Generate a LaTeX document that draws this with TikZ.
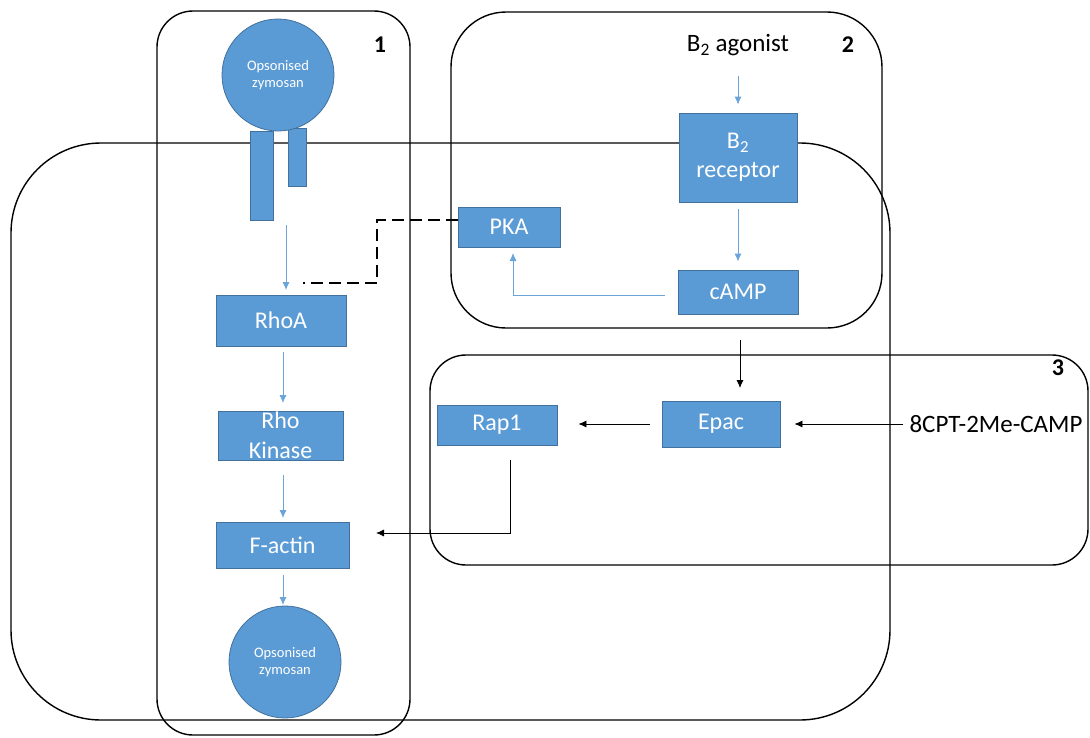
\documentclass[tikz,border=0pt]{standalone}
\usepackage{fontspec}
\setmainfont{Carlito}
\usetikzlibrary{arrows.meta,calc}
\definecolor{boxblue}{HTML}{5B9BD5}
\definecolor{boxedge}{HTML}{41719C}
\definecolor{arrblue}{HTML}{6AA4D8}
\tikzset{
  region/.style={draw=black,line width=1.4pt},
  protbox/.style={rectangle,fill=boxblue,draw=boxedge,line width=0.8pt,inner sep=0pt,text=white,font=\fontsize{24}{29}\selectfont,align=center},
  recbar/.style={rectangle,fill=boxblue,draw=boxedge,line width=0.8pt,inner sep=0pt},
  ball/.style={circle,fill=boxblue,draw=boxedge,line width=0.8pt,inner sep=0pt,minimum size=112pt,text=white,font=\fontsize{14.5}{17}\selectfont,align=center},
  barrow/.style={draw=arrblue,line width=0.9pt,-{Latex[length=8pt,width=7pt]}},
  karrow/.style={draw=black,line width=0.8pt,-{Latex[length=8pt,width=7pt]}},
  lbl/.style={font=\fontsize{25}{30}\selectfont,inner sep=0pt},
  numlbl/.style={font=\fontsize{24}{29}\selectfont\bfseries,inner sep=0pt},
}
\begin{document}
\begin{tikzpicture}[x=1pt,y=-1pt]
\useasboundingbox (0,0) rectangle (1090,737);
% cell outline
\draw[region,rounded corners=90pt] (11,143) rectangle (890,720);
% region boxes
\draw[region,rounded corners=36pt] (157,11) rectangle (410,735);
\draw[region,rounded corners=55pt] (451,12) rectangle (882,328);
\draw[region,rounded corners=36pt] (430,355) rectangle (1088,565);
% receptors
\node[recbar,minimum width=23pt,minimum height=89pt] (rec1) at (261.5,175.5) {};
\node[recbar,minimum width=18pt,minimum height=58pt] (rec2) at (297,157) {};
% nodes
\node[ball] (zym1) at (278,75) {Opsonised\\zymosan};
\node[ball] (zym2) at (285,662) {Opsonised\\zymosan};
\node[protbox,minimum width=130pt,minimum height=51pt] (rhoa) at (281,320.5) {RhoA};
\node[protbox,minimum width=125pt,minimum height=49pt,font=\fontsize{24}{30}\selectfont] (rhok) at (280.5,435.5) {Rho\\Kinase};
\node[protbox,minimum width=133pt,minimum height=46pt] (factin) at (282.5,545) {F-actin};
\node[protbox,minimum width=102pt,minimum height=40pt] (pka) at (509,227) {PKA};
\node[protbox,minimum width=118pt,minimum height=89pt] (b2r) at (738,157.5) {B\textsubscript{2}\\receptor};
\node[protbox,minimum width=120pt,minimum height=44pt] (camp) at (738,292) {cAMP};
\node[protbox,minimum width=118pt,minimum height=46pt] (epac) at (721,424) {Epac};
\node[protbox,minimum width=120pt,minimum height=40pt] (rap1) at (497,425) {Rap1};
\node[lbl] (agon) at (738,45) {B\textsubscript{2} agonist};
\node[lbl] (cpt) at (996,424) {8CPT-2Me-CAMP};
\node[numlbl] (n1) at (380,45) {1};
\node[numlbl] (n2) at (848,45) {2};
\node[numlbl] (n3) at (1058,368) {3};
% coordinates for connector ends
\coordinate (recout) at (286,225);
\coordinate (rhoatop) at (286,290);
\coordinate (pkaturn) at (513,295);
\coordinate (pkain) at (513,253);
\coordinate (dashA) at (377,220);
\coordinate (dashB) at (377,283);
\coordinate (dashC) at (303,283);
\coordinate (campout) at (740,340);
\coordinate (epacin) at (740,388);
\coordinate (rapout) at (510,460);
\coordinate (rapturn) at (510,533);
\coordinate (factin-in) at (376,533);
% blue arrows
\draw[barrow] (recout) -- (rhoatop);
\draw[barrow] (283,352) -- (283,403);
\draw[barrow] (283,475) -- (283,518);
\draw[barrow] (283,575) -- (283,605);
\draw[barrow,shorten <=20pt,shorten >=8pt] (agon.south) -- (b2r.north);
\draw[barrow,shorten <=7pt,shorten >=8pt] (b2r.south) -- (camp.north);
\draw[barrow,shorten <=13pt] ($(camp.west)+(0,3)$) -- (pkaturn) -- (pkain);
% dashed inhibition
\draw[black,line width=2.6pt,dash pattern=on 12pt off 6pt] (pka.west |- dashA) -- (dashA) -- (dashB) -- (dashC);
% black arrows
\draw[karrow] (campout) -- (epacin);
\draw[karrow,shorten <=6pt,shorten >=14pt] (cpt.west) -- (epac.east);
\draw[karrow,shorten <=12pt,shorten >=21pt] (epac.west) -- (rap1.east |- epac.west);
\draw[karrow] (rapout) -- (rapturn) -- (factin-in);
\end{tikzpicture}
\end{document}
